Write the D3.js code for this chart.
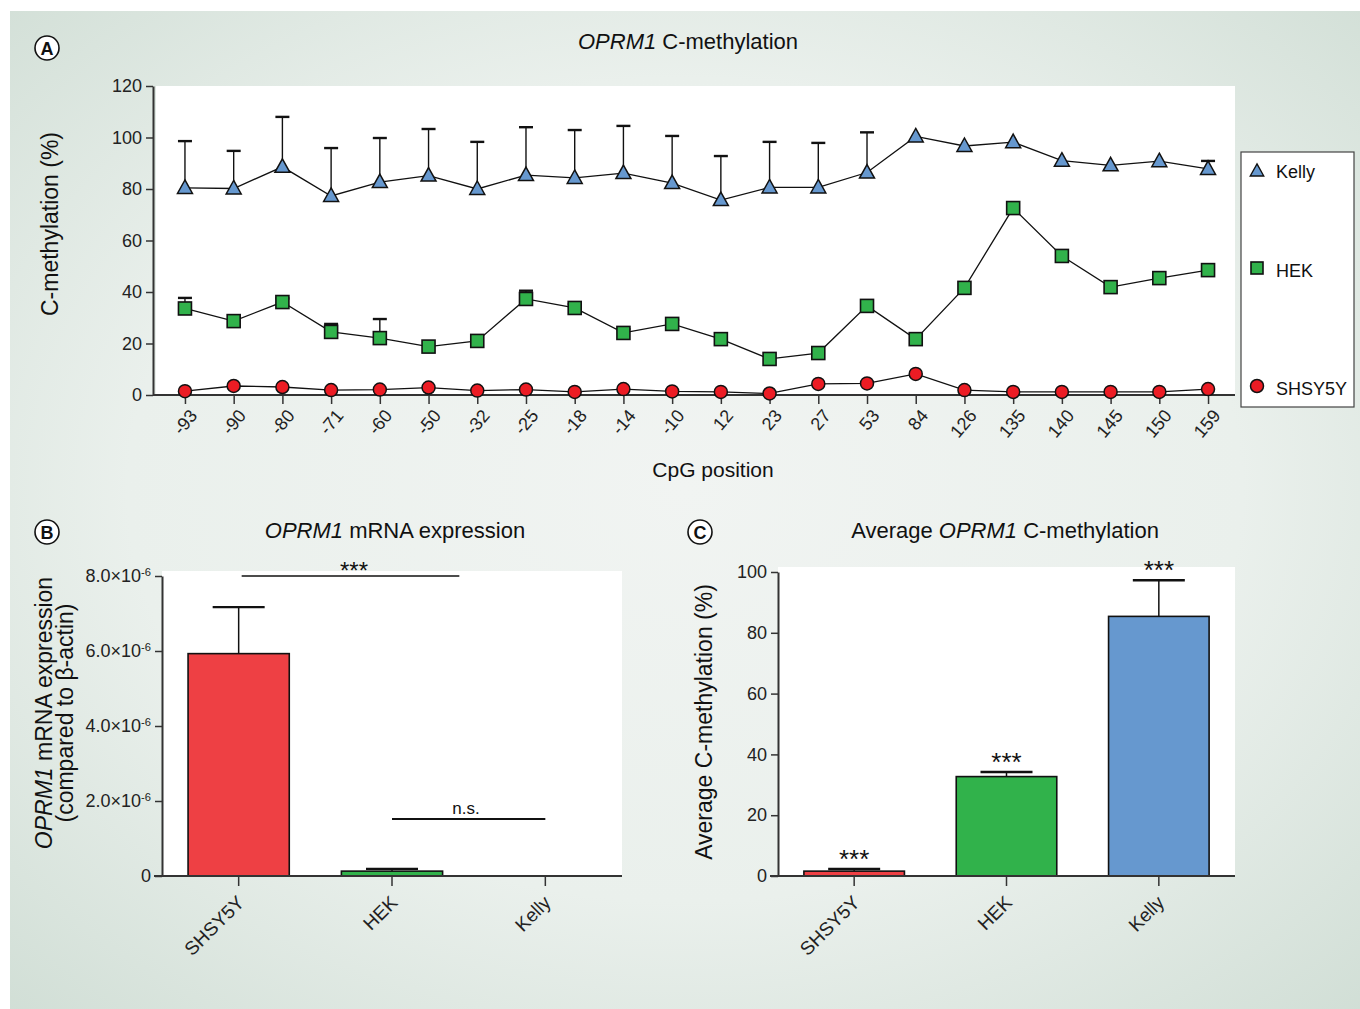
<!DOCTYPE html>
<html>
<head>
<meta charset="utf-8">
<script src="https://cdn.jsdelivr.net/npm/d3@7"></script>
<style>
  html, body { margin: 0; padding: 0; background: #fff; }
  svg { display: block; font-family: "Liberation Sans", Arial, sans-serif; }
</style>
</head>
<body>
<svg id="fig" width="1360" height="1009"></svg>
<script>
// ---- Panel A: per-CpG methylation ----
const cpgPositions = ["-93","-90","-80","-71","-60","-50","-32","-25","-18","-14","-10","12","23","27","53","84","126","135","140","145","150","159"];
const kellyMean = [80.4,80.2,88.6,77.3,82.7,85.2,80.0,85.4,84.3,86.2,82.3,75.7,80.6,80.6,86.4,100.4,96.7,98.2,91.0,89.2,90.8,87.8];
const kellyUpper = [98.6,94.8,108.0,95.9,99.8,103.3,98.3,104.0,102.9,104.5,100.6,92.8,98.3,97.9,102.0,100.4,96.7,98.2,91.0,89.2,90.8,90.9];
const hekMean = [33.6,28.7,36.1,24.5,22.1,18.8,21.0,37.3,33.8,24.1,27.6,21.7,14.0,16.3,34.6,21.7,41.6,72.6,54.0,41.9,45.4,48.5];
const hekUpper = [37.7,28.7,37.5,27.6,29.5,18.8,21.0,40.5,35.3,25.6,29.2,21.7,14.0,16.3,34.6,21.7,41.6,72.6,54.0,41.9,45.4,48.5];
const shsyMean = [1.5,3.5,3.1,1.9,2.1,2.9,1.7,2.1,1.2,2.3,1.4,1.2,0.6,4.3,4.5,8.2,1.9,1.2,1.2,1.2,1.2,2.3];
const methTicks = [0,20,40,60,80,100,120];

// ---- Panel B: mRNA expression ----
const cellLines = ["SHSY5Y","HEK","Kelly"];
const mrnaMean = [5.93e-6, 0.13e-6, 0.0];
const mrnaUpper = [7.17e-6, 0.19e-6, 0.0];
const mrnaTicks = [0, 2e-6, 4e-6, 6e-6, 8e-6];

// ---- Panel C: average methylation ----
const avgMean = [1.6, 32.7, 85.4];
const avgUpper = [2.3, 34.2, 97.3];
const avgTicks = [0,20,40,60,80,100];

const cRed = "#ee4044", cRedMark = "#ec1c24", cGreen = "#31b24b", cBlue = "#6698cf";
const cellColors = [cRed, cGreen, cBlue];
const axisColor = "#333";

const svg = d3.select("#fig");
const defs = svg.append("defs");
const grad = defs.append("radialGradient").attr("id","bg")
  .attr("cx","50%").attr("cy","48%").attr("r","75%");
grad.append("stop").attr("offset","0%").attr("stop-color","#f1f4f2");
grad.append("stop").attr("offset","55%").attr("stop-color","#eaf0ec");
grad.append("stop").attr("offset","100%").attr("stop-color","#cfddd4");

svg.append("rect").attr("x",10).attr("y",11).attr("width",1350).attr("height",998).attr("fill","url(#bg)");

function panelLetter(x, y, letter) {
  svg.append("circle").attr("cx",x).attr("cy",y).attr("r",12)
    .attr("fill","#fff").attr("stroke","#111").attr("stroke-width",1.6);
  svg.append("text").attr("x",x).attr("y",y+6.5).attr("text-anchor","middle")
    .attr("font-size",18).attr("font-weight","bold").attr("fill","#111").text(letter);
}

function styleAxis(g) {
  g.selectAll("path.domain").attr("stroke",axisColor).attr("stroke-width",2);
  g.selectAll(".tick line").attr("stroke",axisColor).attr("stroke-width",1.5);
  g.selectAll(".tick text").attr("fill","#222").attr("font-family","Liberation Sans, Arial, sans-serif");
}

// ================= Panel A =================
const aLeft = 156, aRight = 1235, aTop = 86, aBottom = 395;
svg.append("rect").attr("x",aLeft).attr("y",aTop).attr("width",aRight-aLeft).attr("height",aBottom-aTop).attr("fill","#fff");

const xA = d3.scalePoint().domain(cpgPositions).range([160.6, 1232.4]).padding(0.5);
const yA = d3.scaleLinear().domain([0,120]).range([aBottom, aTop]);

const gyA = svg.append("g").attr("transform",`translate(${aLeft-3},0)`)
  .call(d3.axisLeft(yA).tickValues(methTicks).tickSize(7).tickSizeOuter(0).tickPadding(4));
styleAxis(gyA);
gyA.selectAll(".tick text").attr("font-size",18);

const gxA = svg.append("g").attr("transform",`translate(0,${aBottom})`)
  .call(d3.axisBottom(xA).tickSize(9).tickSizeOuter(0).tickPadding(4));
gxA.select("path.domain").attr("d", `M${aLeft-3},0H${aRight}`);
styleAxis(gxA);
gxA.selectAll(".tick text").attr("font-size",18)
  .attr("text-anchor","end").attr("x",0).attr("y",0).attr("dy","0.35em")
  .attr("transform","translate(8,17) rotate(-50)");

svg.append("text").attr("x",713).attr("y",477).attr("text-anchor","middle")
  .attr("font-size",21).attr("fill","#111").text("CpG position");
svg.append("text").attr("transform","translate(58,224) rotate(-90)").attr("text-anchor","middle")
  .attr("font-size",23).attr("fill","#111").text("C-methylation (%)");

const tA = svg.append("text").attr("x",688).attr("y",49).attr("text-anchor","middle").attr("font-size",22).attr("fill","#111");
tA.append("tspan").attr("font-style","italic").text("OPRM1");
tA.append("tspan").text(" C-methylation");
panelLetter(47, 48, "A");

const lineGen = d3.line().x((d,i) => xA(cpgPositions[i])).y(d => yA(d));

function errorBars(means, uppers) {
  const g = svg.append("g");
  cpgPositions.forEach((p,i) => {
    if (uppers[i] - means[i] < 0.3) return;
    const x = xA(p);
    g.append("line").attr("x1",x).attr("x2",x).attr("y1",yA(means[i])).attr("y2",yA(uppers[i]))
      .attr("stroke","#111").attr("stroke-width",1.4);
    g.append("line").attr("x1",x-7).attr("x2",x+7).attr("y1",yA(uppers[i])).attr("y2",yA(uppers[i]))
      .attr("stroke","#111").attr("stroke-width",2.4);
  });
}
errorBars(kellyMean, kellyUpper);
errorBars(hekMean, hekUpper);

[kellyMean, hekMean, shsyMean].forEach(s => {
  svg.append("path").datum(s).attr("d",lineGen).attr("fill","none").attr("stroke","#111").attr("stroke-width",1.3);
});

const triPath = "M0,-8L7.5,5.5L-7.5,5.5Z";
svg.append("g").selectAll("path").data(kellyMean).join("path")
  .attr("d",triPath).attr("transform",(d,i)=>`translate(${xA(cpgPositions[i])},${yA(d)})`)
  .attr("fill",cBlue).attr("stroke","#111").attr("stroke-width",1.5);
svg.append("g").selectAll("rect").data(hekMean).join("rect")
  .attr("x",(d,i)=>xA(cpgPositions[i])-6.5).attr("y",d=>yA(d)-6.5).attr("width",13).attr("height",13)
  .attr("fill",cGreen).attr("stroke","#111").attr("stroke-width",1.6);
svg.append("g").selectAll("circle").data(shsyMean).join("circle")
  .attr("cx",(d,i)=>xA(cpgPositions[i])).attr("cy",d=>yA(d)).attr("r",6.5)
  .attr("fill",cRedMark).attr("stroke","#111").attr("stroke-width",1.5);

// legend
const leg = svg.append("g");
leg.append("rect").attr("x",1241).attr("y",152).attr("width",113).attr("height",255)
  .attr("fill","#fff").attr("stroke","#444").attr("stroke-width",1.2);
leg.append("path").attr("d",triPath).attr("transform","translate(1257,171) scale(0.9)")
  .attr("fill",cBlue).attr("stroke","#111").attr("stroke-width",1.5);
leg.append("rect").attr("x",1251).attr("y",262).attr("width",12).attr("height",12)
  .attr("fill",cGreen).attr("stroke","#111").attr("stroke-width",1.6);
leg.append("circle").attr("cx",1257).attr("cy",386).attr("r",6.5)
  .attr("fill",cRedMark).attr("stroke","#111").attr("stroke-width",1.5);
[["Kelly",178],["HEK",277],["SHSY5Y",395]].forEach(([t,y]) => {
  leg.append("text").attr("x",1276).attr("y",y).attr("font-size",18).attr("fill","#111").text(t);
});

// ================= Bar panels =================
function barPanel(opts) {
  const {left, right, top, bottom, yDomain, ticks, means, uppers, tickFmt, fontSize} = opts;
  svg.append("rect").attr("x",left).attr("y",top-5).attr("width",right-left).attr("height",bottom-top+5).attr("fill","#fff");
  const x = d3.scaleBand().domain(cellLines).range([left, right]).paddingInner(0.34).paddingOuter(0.17);
  const y = d3.scaleLinear().domain(yDomain).range([bottom, top]);

  const gy = svg.append("g").attr("transform",`translate(${left},0)`)
    .call(d3.axisLeft(y).tickValues(ticks).tickSize(7).tickSizeOuter(0).tickPadding(4).tickFormat(() => ""));
  styleAxis(gy);
  gy.selectAll(".tick text").each(function(d) { tickFmt(d3.select(this), d); }).attr("font-size",fontSize);

  // bars
  svg.append("g").selectAll("rect").data(means).join("rect")
    .attr("x",(d,i)=>x(cellLines[i])).attr("width",x.bandwidth())
    .attr("y",d=>y(d)).attr("height",d=>Math.max(0, y(0)-y(d)))
    .attr("fill",(d,i)=>cellColors[i]).attr("stroke","#111").attr("stroke-width",1.6);
  // error bars
  means.forEach((m,i) => {
    if (uppers[i] - m <= 0) return;
    const cx = x(cellLines[i]) + x.bandwidth()/2;
    svg.append("line").attr("x1",cx).attr("x2",cx).attr("y1",y(m)).attr("y2",y(uppers[i]))
      .attr("stroke","#111").attr("stroke-width",1.5);
    svg.append("line").attr("x1",cx-26).attr("x2",cx+26).attr("y1",y(uppers[i])).attr("y2",y(uppers[i]))
      .attr("stroke","#111").attr("stroke-width",2.4);
  });

  const gx = svg.append("g").attr("transform",`translate(0,${bottom})`)
    .call(d3.axisBottom(x).tickSize(10).tickSizeOuter(0).tickPadding(6));
  gx.select("path.domain").attr("d",`M${left-8},0H${right}`);
  styleAxis(gx);
  gx.selectAll(".tick text").attr("font-size",19).attr("text-anchor","end")
    .attr("x",0).attr("y",0).attr("dy","0.35em").attr("transform","translate(2,23) rotate(-45)");
  return {x, y};
}

// Panel B
panelLetter(47, 532, "B");
const tB = svg.append("text").attr("x",395).attr("y",538).attr("text-anchor","middle").attr("font-size",22).attr("fill","#111");
tB.append("tspan").attr("font-style","italic").text("OPRM1");
tB.append("tspan").text(" mRNA expression");

const sciFmt = (sel, d) => {
  sel.text(null);
  if (d === 0) { sel.text("0"); return; }
  sel.append("tspan").text((d/1e-6).toFixed(1) + "×10");
  sel.append("tspan").attr("dy","-0.55em").attr("font-size","0.62em").text("-6");
};
const pB = barPanel({left:162, right:622, top:576, bottom:876, yDomain:[0,8e-6], ticks:mrnaTicks,
  means:mrnaMean, uppers:mrnaUpper, tickFmt:sciFmt, fontSize:18});

const cxB = c => pB.x(c) + pB.x.bandwidth()/2;
svg.append("line").attr("x1",cxB("SHSY5Y")+3).attr("x2",cxB("Kelly")-86).attr("y1",576).attr("y2",576)
  .attr("stroke","#111").attr("stroke-width",1.5);
svg.append("text").attr("x",354).attr("y",579).attr("text-anchor","middle").attr("font-size",24).attr("fill","#111").text("***");
svg.append("line").attr("x1",cxB("HEK")).attr("x2",cxB("Kelly")).attr("y1",819).attr("y2",819)
  .attr("stroke","#111").attr("stroke-width",1.8);
svg.append("text").attr("x",466).attr("y",814).attr("text-anchor","middle").attr("font-size",17).attr("fill","#111").text("n.s.");

const yLabB = svg.append("text").attr("transform","translate(52,713) rotate(-90)").attr("text-anchor","middle")
  .attr("font-size",23).attr("fill","#111");
yLabB.append("tspan").attr("font-style","italic").text("OPRM1");
yLabB.append("tspan").text(" mRNA expression");
svg.append("text").attr("transform","translate(73,713) rotate(-90)").attr("text-anchor","middle")
  .attr("font-size",23).attr("fill","#111").text("(compared to β-actin)");

// Panel C
panelLetter(700, 532, "C");
const tC = svg.append("text").attr("x",1005).attr("y",538).attr("text-anchor","middle").attr("font-size",22).attr("fill","#111");
tC.append("tspan").text("Average ");
tC.append("tspan").attr("font-style","italic").text("OPRM1");
tC.append("tspan").text(" C-methylation");

const pC = barPanel({left:778, right:1235, top:572, bottom:876, yDomain:[0,100], ticks:avgTicks,
  means:avgMean, uppers:avgUpper, tickFmt:(sel,d)=>sel.text(d), fontSize:18});
avgUpper.forEach((u,i) => {
  svg.append("text").attr("x",pC.x(cellLines[i]) + pC.x.bandwidth()/2).attr("y",pC.y(u)-1)
    .attr("text-anchor","middle").attr("font-size",26).attr("fill","#111").text("***");
});
svg.append("text").attr("transform","translate(712,722) rotate(-90)").attr("text-anchor","middle")
  .attr("font-size",23).attr("fill","#111").text("Average C-methylation (%)");
</script>
</body>
</html>
